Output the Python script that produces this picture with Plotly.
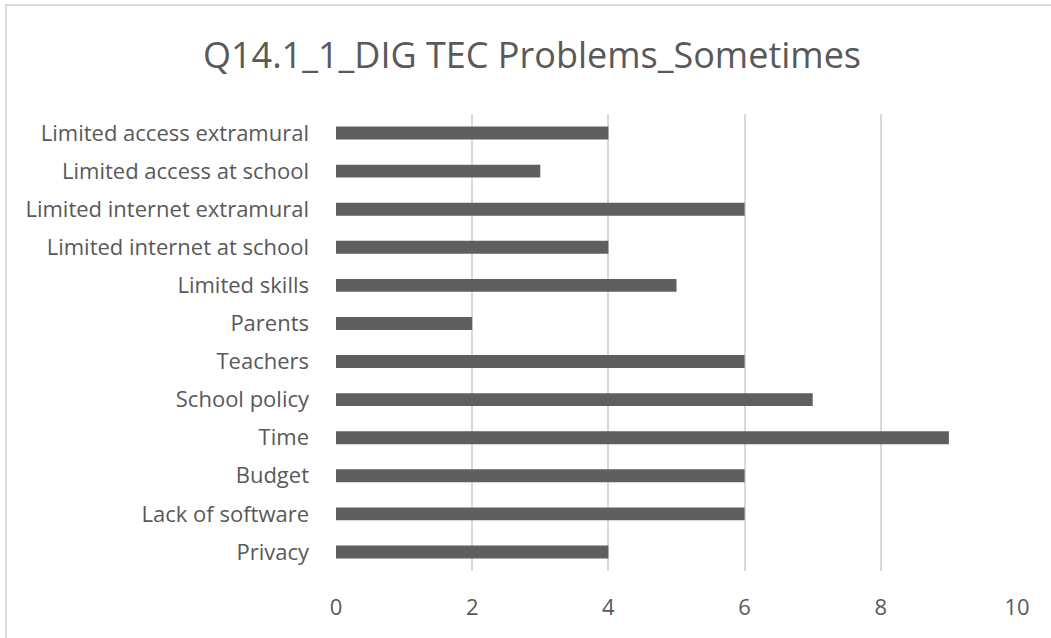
import plotly.graph_objects as go

categories = [
    "Limited access extramural",
    "Limited access at school",
    "Limited internet extramural",
    "Limited internet at school",
    "Limited skills",
    "Parents",
    "Teachers",
    "School policy",
    "Time",
    "Budget",
    "Lack of software",
    "Privacy",
]
values = [4, 3, 6, 4, 5, 2, 6, 7, 9, 6, 6, 4]
x_ticks = [0, 2, 4, 6, 8, 10]
title_text = "Q14.1_1_DIG TEC Problems_Sometimes"

W, H = 1051, 638
L, R, T, B = 336, 34, 114, 67
pw, ph = W - L - R, H - T - B

fig = go.Figure(go.Bar(
    x=values, y=categories, orientation="h",
    marker=dict(color="#5f5f5f", line=dict(width=0)),
    hoverinfo="skip",
))

font_family = "'Open Sans', Lato, sans-serif"
fig.update_layout(
    width=W, height=H,
    margin=dict(l=L, r=R, t=T, b=B),
    paper_bgcolor="white", plot_bgcolor="white",
    bargap=0.66,
    showlegend=False,
    title=dict(text=title_text, x=532 / W, xanchor="center", y=1 - 55 / H, yanchor="middle",
               font=dict(family=font_family, size=36, color="#595959")),
    font=dict(family=font_family, color="#595959"),
    xaxis=dict(range=[0, 10], tickvals=x_ticks, showgrid=True, gridcolor="#d9d9d9", gridwidth=2,
               zeroline=False, showline=False, ticks="", tickfont=dict(size=22, color="#595959"),
               ticklabelstandoff=21, fixedrange=True),
    yaxis=dict(autorange="reversed", showgrid=False, zeroline=False, showline=False, ticks="",
               tickfont=dict(size=22, color="#595959"), ticklabelstandoff=26, fixedrange=True),
    shapes=[dict(type="rect", xref="paper", yref="paper",
                 x0=(6 - L) / pw, x1=(W + 20 - L) / pw,
                 y0=-(20 + B) / ph, y1=(H - B - 5) / ph,
                 line=dict(color="#d9d9d9", width=2), fillcolor="rgba(0,0,0,0)", layer="below")],
)

fig.write_html("out.html", config={"displayModeBar": False},
               post_script="document.body.style.margin='0';document.body.style.overflow='hidden';")
